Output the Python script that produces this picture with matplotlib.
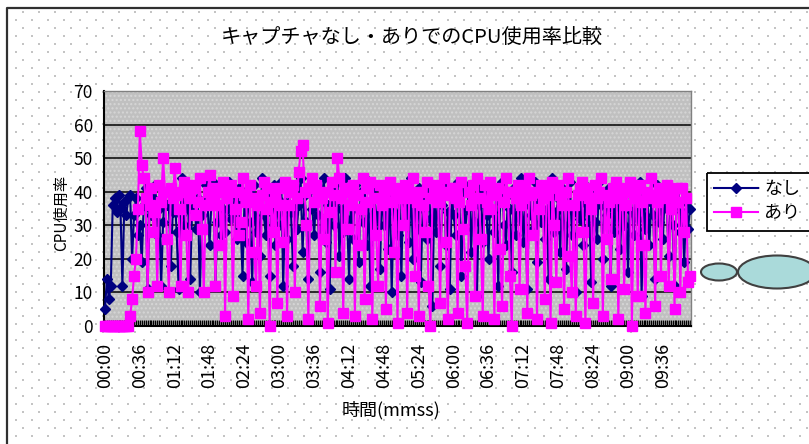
import numpy as np
import matplotlib
matplotlib.use('Agg')
import matplotlib.pyplot as plt
from matplotlib.patches import Rectangle, Ellipse

plt.rcParams['font.family'] = ['Noto Sans CJK JP', 'DejaVu Sans']
plt.rcParams['hatch.linewidth'] = 1.0

# CPU使用率(%)  2秒ごとのサンプル
nashi = [
    5, 14, 8, 12, 36, 38, 34, 39, 35, 12, 37, 33, 38, 39, 20, 33, 38, 27,
    30, 19, 36, 41, 11, 35, 33, 38, 42, 27, 35, 12, 31, 40, 36, 36, 18, 34,
    39, 28, 11, 33, 44, 30, 37, 35, 14, 35, 41, 29, 38, 10, 33, 37, 42, 36,
    24, 38, 43, 12, 31, 36, 27, 40, 28, 35, 43, 32, 33, 39, 26, 41, 30, 15,
    37, 25, 40, 31, 13, 42, 28, 36, 21, 44, 33, 27, 39, 15, 35, 42, 24, 38,
    30, 43, 12, 37, 26, 40, 34, 18, 41, 29, 36, 44, 22, 39, 31, 14, 42, 35,
    27, 40, 33, 16, 38, 44, 25, 36, 11, 41, 30, 37, 43, 21, 35, 28, 44, 32,
    14, 39, 26, 42, 35, 19, 40, 31, 44, 24, 37, 12, 33, 41, 28, 38, 17, 42,
    30, 36, 23, 43, 10, 34, 40, 27, 38, 15, 42, 31, 36, 25, 44, 20, 37, 29,
    41, 13, 35, 39, 26, 43, 32, 6, 38, 28, 41, 18, 36, 42, 24, 34, 11, 40,
    33, 27, 43, 37, 15, 40, 29, 35, 42, 22, 38, 31, 9, 36, 41, 25, 39, 33,
    20, 42, 34, 28, 40, 12, 37, 43, 30, 24, 39, 35, 16, 41, 27, 38, 32, 44,
    25, 36, 11, 40, 33, 29, 43, 19, 37, 31, 42, 26, 35, 14, 39, 44, 28, 34,
    38, 22, 41, 30, 17, 36, 43, 27, 34, 10, 40, 32, 37, 24, 42, 29, 35, 13,
    39, 31, 26, 43, 36, 20, 38, 33, 41, 12, 35, 28, 42, 37, 23, 40, 30, 36,
    16, 41, 34, 27, 39, 32, 43, 9, 36, 29, 40, 24, 37, 33, 14, 42, 31, 38,
    26, 40, 35, 21, 38, 30, 12, 36, 41, 28, 34, 19, 37, 29, 35,
]
ari = [
    0, 0, 0, 0, 0, 0, 0, 0, 0, 0, 0, 0, 0, 3, 8, 15, 20, 35,
    58, 48, 44, 38, 10, 36, 41, 28, 34, 12, 42, 37, 50, 40, 26, 10, 41, 38,
    47, 39, 35, 12, 40, 43, 27, 10, 38, 41, 42, 33, 37, 44, 29, 10, 36, 40,
    45, 38, 41, 12, 36, 40, 24, 43, 3, 38, 41, 42, 9, 35, 40, 27, 31, 44,
    39, 37, 2, 42, 38, 22, 12, 36, 4, 39, 43, 35, 41, 0, 37, 28, 38, 7,
    41, 36, 25, 43, 3, 36, 40, 42, 10, 38, 46, 52, 54, 40, 30, 2, 41, 44,
    37, 42, 39, 6, 38, 26, 40, 1, 34, 43, 39, 16, 50, 44, 38, 4, 41, 29,
    40, 36, 42, 3, 39, 24, 35, 44, 8, 37, 41, 43, 2, 38, 27, 12, 42, 36,
    39, 5, 41, 43, 37, 22, 40, 1, 41, 38, 30, 42, 4, 38, 40, 44, 15, 37,
    3, 40, 36, 28, 43, 12, 0, 38, 41, 42, 37, 7, 40, 44, 25, 2, 39, 41,
    41, 38, 4, 37, 43, 29, 18, 1, 40, 36, 42, 9, 44, 38, 26, 3, 42, 37,
    35, 43, 40, 2, 39, 41, 23, 6, 37, 44, 40, 15, 0, 40, 38, 42, 11, 36,
    38, 41, 4, 44, 39, 27, 40, 2, 35, 42, 38, 8, 39, 41, 1, 43, 30, 13,
    42, 39, 36, 5, 40, 44, 21, 10, 36, 3, 39, 41, 43, 28, 1, 41, 38, 35,
    7, 42, 38, 40, 44, 3, 39, 26, 37, 14, 41, 38, 43, 2, 39, 41, 11, 36,
    40, 43, 0, 38, 41, 9, 42, 37, 24, 4, 40, 39, 44, 38, 6, 37, 41, 15,
    39, 38, 42, 12, 35, 40, 5, 37, 41, 10, 41, 28, 38, 13, 15,
]
tick_labels = ['00:00', '00:36', '01:12', '01:48', '02:24', '03:00', '03:36',
               '04:12', '04:48', '05:24', '06:00', '06:36', '07:12', '07:48',
               '08:24', '09:00', '09:36']
label_step = 18  # 36秒ごとにラベル

W, H = 809, 444
fig = plt.figure(figsize=(W / 100, H / 100), dpi=100)

# 背景(点模様のシート + 枠線 + 図形)
bg = fig.add_axes([0, 0, 1, 1], zorder=-10)
bg.set_xlim(0, W)
bg.set_ylim(H, 0)
bg.axis('off')
for i, yy in enumerate(np.arange(12.3, H, 8)):
    xs = np.arange(23.3 if i % 2 == 0 else 15.7, W, 16)
    bg.scatter(xs, np.full(len(xs), yy), s=1.6, marker='s', color='#c4c4c4', linewidths=0)
bg.plot([7, 7, W + 5], [H + 5, 8, 8], color='#303030', lw=1.6)
bg.add_patch(Rectangle((707, 173), 110, 58, fill=False, ec='black', lw=1.3))
bg.add_patch(Ellipse((719, 272), 36, 17, fc='#aadada', ec='#404040', lw=1.5))
bg.add_patch(Ellipse((777, 272), 78, 33, fc='#aadada', ec='#404040', lw=1.5))

ax = fig.add_axes([104 / W, 1 - 326 / H, 587 / W, 235 / H])
ax.set_facecolor('#c0c0c0')
ax.add_patch(Rectangle((0, 0), 1, 1, transform=ax.transAxes, facecolor='none',
                       edgecolor='#d6d6d6', hatch='....', lw=0, zorder=0))

x = np.arange(len(nashi))
ax.plot(x, nashi, color='#000080', lw=1.5, marker='D', ms=5.5, label='なし',
        zorder=3, clip_on=False)
ax.plot(x, ari, color='#ff00ff', lw=1.5, marker='s', ms=6.5, label='あり',
        zorder=4, clip_on=False)

ax.set_xlim(-0.5, len(nashi) - 0.5)
ax.set_ylim(0, 70)
ax.set_yticks(range(0, 71, 10))
ax.set_xticks(x[::label_step])
ax.set_xticklabels(tick_labels, rotation=90)
ax.set_xticks(x, minor=True)
ax.tick_params(axis='x', which='both', direction='in', length=4.5, width=1,
               color='black', pad=12, labelsize=13)
ax.tick_params(axis='y', length=0, pad=8, labelsize=12.5)
ax.grid(axis='y', color='black', lw=1.1)

for side in ['top', 'right']:
    ax.spines[side].set_color('#808080')
    ax.spines[side].set_linewidth(1)
for side in ['left', 'bottom']:
    ax.spines[side].set_color('black')
    ax.spines[side].set_linewidth(1.5)

fig.text(412 / W, 1 - 38 / H, 'キャプチャなし・ありでのCPU使用率比較',
         ha='center', va='center', fontsize=14.5)
fig.text(391 / W, 1 - 410 / H, '時間(mmss)', ha='center', va='center', fontsize=13)
fig.text(61 / W, 1 - 213 / H, 'CPU使用率', rotation=90, ha='center', va='center',
         fontsize=11)

ax.legend(loc='upper left', bbox_to_anchor=(707 / W, 1 - 173 / H),
          bbox_transform=fig.transFigure, frameon=False, fontsize=13,
          handlelength=2.4, handletextpad=0.35, borderpad=0.4,
          labelspacing=0.35, borderaxespad=0)

fig.savefig('out.png', dpi=100)
